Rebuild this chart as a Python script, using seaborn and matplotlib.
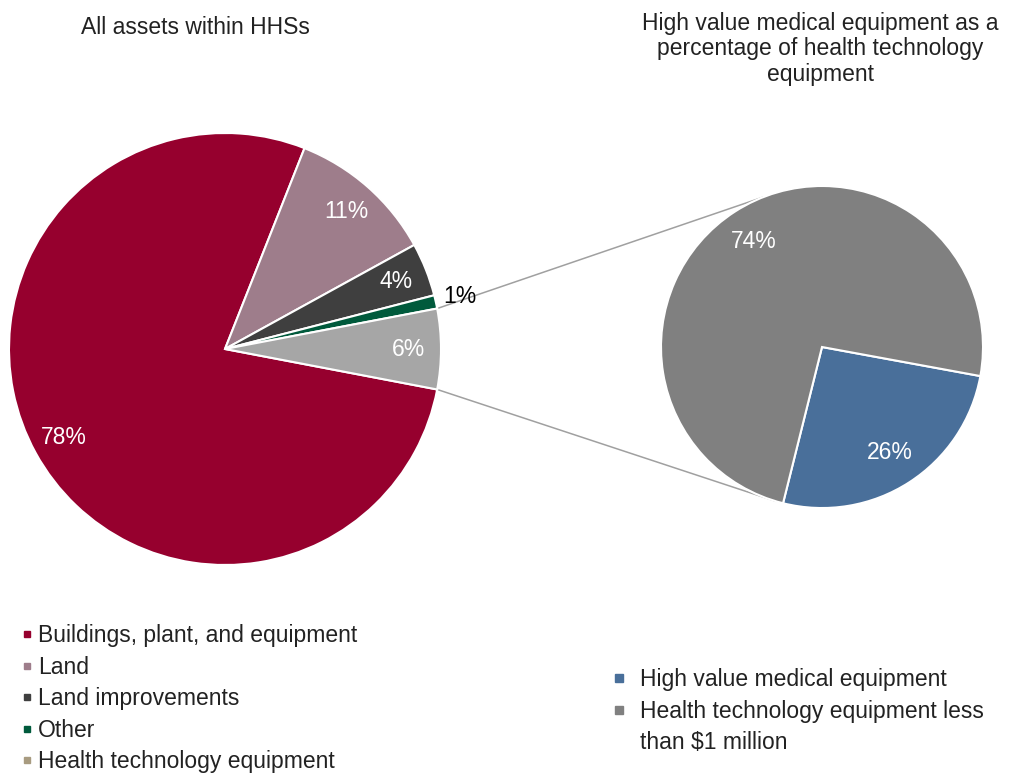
import matplotlib
matplotlib.use("Agg")
import matplotlib.pyplot as plt
from matplotlib.lines import Line2D
import numpy as np
import seaborn as sns

# Asset composition of HHSs (percent)
asset_labels = ["Buildings, plant, and equipment", "Land", "Land improvements",
                "Other", "Health technology equipment"]
asset_values = [78, 11, 4, 1, 6]
asset_colors = ["#96002E", "#9E7D8B", "#3F3F3F", "#005A3C", "#A6A6A6"]
asset_legend_colors = ["#96002E", "#9E7D8B", "#3F3F3F", "#005A3C", "#A89B80"]

# Breakdown of health technology equipment (percent)
htech_labels = ["High value medical equipment",
                "Health technology equipment less", "than $1 million"]
htech_values = [26, 74]
htech_colors = ["#496F9A", "#808080"]

W, H = 1009, 774
sns.set_theme(style="white")
plt.rcParams["font.family"] = ["Liberation Sans", "DejaVu Sans"]
TXT = "#222222"
FS = 16.5

fig = plt.figure(figsize=(W / 100, H / 100), dpi=100)
ax = fig.add_axes([0, 0, 1, 1])

# Layout of the two pies in pixel units (y measured upward)
c1, r1 = (225, 425), 216
c2, r2 = (822, 427), 161
wedge_kw = dict(edgecolor="white", linewidth=1.5)

def pct_fmt(v):
    return f"{v:.0f}%"

w1, t1, a1 = ax.pie(asset_values, colors=asset_colors, startangle=-10.8,
                    counterclock=False, center=c1, radius=r1, frame=True,
                    autopct=pct_fmt, pctdistance=0.85, wedgeprops=wedge_kw,
                    textprops=dict(color="white", fontsize=FS))

# Small "Other" slice gets its label just outside the pie
small = asset_labels.index("Other")
wd = w1[small]
mid = np.deg2rad((wd.theta1 + wd.theta2) / 2)
a1[small].set_position((c1[0] + 1.115 * r1 * np.cos(mid),
                        c1[1] + 1.115 * r1 * np.sin(mid)))
a1[small].set_color("black")

w2, t2, a2 = ax.pie(htech_values, colors=htech_colors, startangle=-10.4,
                    counterclock=False, center=c2, radius=r2, frame=True,
                    explode=[0.028, 0], autopct=pct_fmt, pctdistance=0.78,
                    wedgeprops=wedge_kw,
                    textprops=dict(color="white", fontsize=FS))

# Connector lines from the health technology slice to the second pie
ht = w1[asset_labels.index("Health technology equipment")]
for ang1, ang2 in [(ht.theta2, 111.5), (ht.theta1, -106.5)]:
    p1 = (c1[0] + r1 * np.cos(np.deg2rad(ang1)), c1[1] + r1 * np.sin(np.deg2rad(ang1)))
    p2 = (c2[0] + r2 * np.cos(np.deg2rad(ang2)), c2[1] + r2 * np.sin(np.deg2rad(ang2)))
    ax.plot([p1[0], p2[0]], [p1[1], p2[1]], color="#A0A0A0", lw=1.1,
            zorder=0, solid_capstyle="butt")

ax.set_xlim(0, W)
ax.set_ylim(0, H)
ax.set_aspect("equal")
ax.axis("off")

# Titles
ax.text(195, H - 27, "All assets within HHSs", ha="center", va="center",
        fontsize=FS, color=TXT)
ax.text(820, H - 49, "High value medical equipment as a\npercentage of health technology\nequipment",
        ha="center", va="center", fontsize=FS, color=TXT, linespacing=1.12)

# Legends
h1 = [Line2D([], [], ls="", marker="s", markersize=5, color=c) for c in asset_legend_colors]
leg1 = ax.legend(h1, asset_labels, loc="upper left",
                 bbox_to_anchor=(13 / W, 1 - 615 / H), frameon=False,
                 fontsize=FS, handlelength=0.4, handletextpad=0.3,
                 labelspacing=0.37, borderaxespad=0, labelcolor=TXT)
ax.add_artist(leg1)

# Second legend: the long label wraps onto a row without a marker
h2 = [Line2D([], [], ls="", marker="s", markersize=6, color=c) for c in htech_colors]
h2.append(Line2D([], [], ls="", marker=None))
ax.legend(h2, htech_labels, loc="upper left",
          bbox_to_anchor=(603 / W, 1 - 659 / H), frameon=False,
          fontsize=FS, handlelength=0.6, handletextpad=0.6,
          labelspacing=0.37, borderaxespad=0, labelcolor=TXT)

fig.savefig("out.png", dpi=100, facecolor="white")
